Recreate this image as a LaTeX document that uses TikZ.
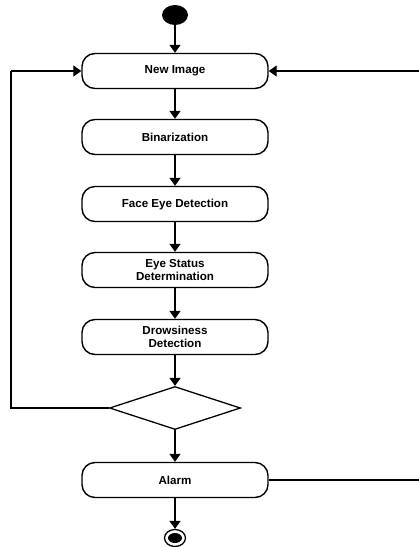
\documentclass[tikz,border=0pt]{standalone}
\usepackage{fontspec}
\setmainfont{Liberation Sans}
\usetikzlibrary{arrows.meta,shapes.geometric}
\begin{document}
\begin{tikzpicture}[x=1pt,y=-1pt,
  act/.style={draw, line width=1.4pt, rounded corners=13pt, minimum width=186pt,
    minimum height=35pt, align=center, inner sep=0pt,
    font=\bfseries\fontsize{11.6}{13.5}\selectfont},
  flow/.style={-{Triangle[length=8pt,width=11pt]}, line width=1.6pt},
  link/.style={line width=1.2pt}]
\useasboundingbox[fill=white] (0,0) rectangle (419,547);
\node[ellipse, fill=black, minimum width=26pt, minimum height=20pt, inner sep=0pt] (start) at (175,15) {};
\node[act] (img) at (175,71) {New Image};
\node[act] (bin) at (175,137) {Binarization};
\node[act] (face) at (175,204) {Face Eye Detection};
\node[act] (eye) at (175,270) {Eye Status\\Determination};
\node[act] (drow) at (175,337) {Drowsiness\\Detection};
\node[diamond, draw, line width=1.3pt, aspect=3, minimum width=131pt, minimum height=43pt, inner sep=0pt] (dec) at (175,408) {};
\node[act] (alarm) at (175,480) {Alarm};
\node[ellipse, draw, line width=1.3pt, minimum width=21pt, minimum height=17pt, inner sep=0pt] (end) at (175,538) {};
\node[ellipse, fill=black, minimum width=14pt, minimum height=10pt, inner sep=0pt] (endin) at (175,538) {};
\coordinate (lft) at (11,408);
\coordinate (lftt) at (11,71);
\coordinate (rgt) at (425,480);
\coordinate (rgtt) at (425,71);
\draw[flow] (start) -- (img);
\draw[flow] (img) -- (bin);
\draw[flow] (bin) -- (face);
\draw[flow] (face) -- (eye);
\draw[flow] (eye) -- (drow);
\draw[flow] (drow) -- (dec);
\draw[flow] (dec) -- (alarm);
\draw[flow] (alarm) -- (end);
\draw[link] (dec.west) -- (lft) -- (lftt);
\draw[link,-{Triangle[length=8pt,width=11pt]}] (lftt) -- (img.west);
\draw[link] (alarm.east) -- (rgt) -- (rgtt);
\draw[link,-{Triangle[length=8pt,width=11pt]}] (rgtt) -- (img.east);
\end{tikzpicture}
\end{document}
